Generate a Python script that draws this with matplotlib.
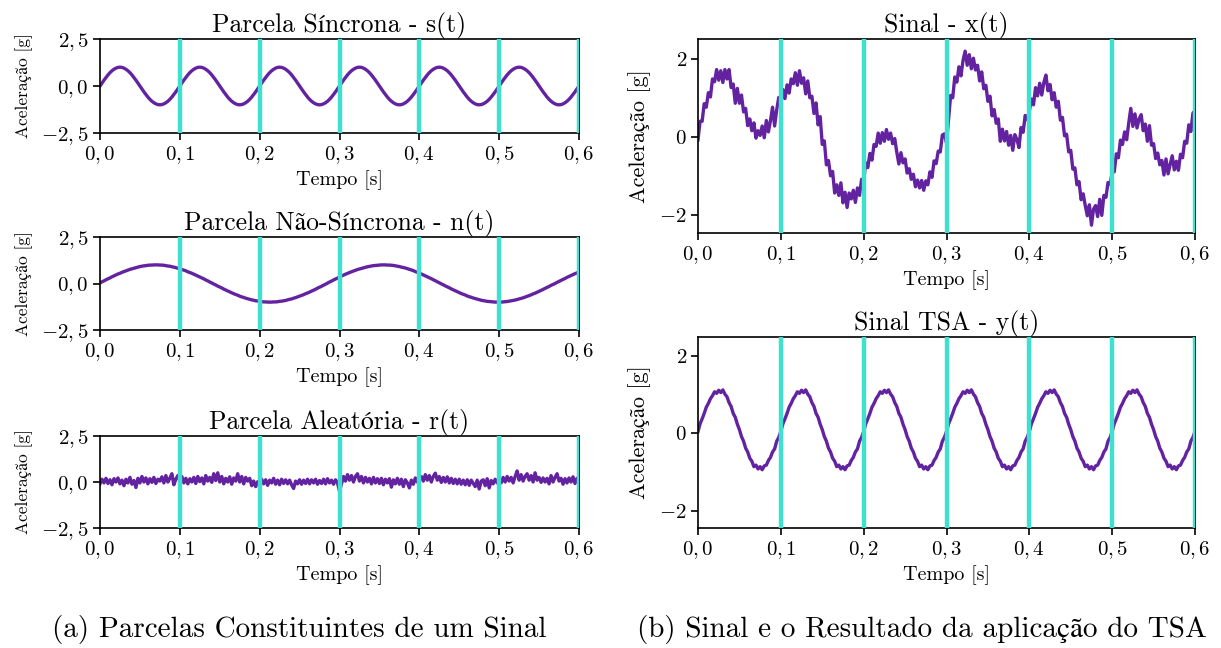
import numpy as np
import matplotlib
matplotlib.use("Agg")
import matplotlib.pyplot as plt
from matplotlib.ticker import FixedLocator, FixedFormatter

plt.rcParams['font.family'] = ['cmr10', 'STIXGeneral', 'DejaVu Serif']
plt.rcParams['mathtext.fontset'] = 'cm'
plt.rcParams['axes.unicode_minus'] = True

# ---------------- data ----------------
dt = 0.0025
n_samples = 241

# synchronous part s(t): one 0.1 s period (40 samples), repeated
s_period = [0.00, 0.16, 0.31, 0.45, 0.59, 0.71, 0.81, 0.89, 0.95, 0.99,
            1.00, 0.99, 0.95, 0.89, 0.81, 0.71, 0.59, 0.45, 0.31, 0.16,
            0.00, -0.16, -0.31, -0.45, -0.59, -0.71, -0.81, -0.89, -0.95, -0.99,
            -1.00, -0.99, -0.95, -0.89, -0.81, -0.71, -0.59, -0.45, -0.31, -0.16]
s_vals = s_period * 6 + [0.00]

# non-synchronous part n(t)
n_vals = [0.03, 0.09, 0.14, 0.20, 0.25, 0.30, 0.36, 0.41, 0.46, 0.51,
          0.55, 0.60, 0.64, 0.68, 0.72, 0.76, 0.79, 0.82, 0.85, 0.88,
          0.91, 0.93, 0.95, 0.96, 0.98, 0.99, 0.99, 1.00, 1.00, 1.00,
          0.99, 0.99, 0.98, 0.96, 0.94, 0.93, 0.90, 0.88, 0.85, 0.82,
          0.79, 0.75, 0.72, 0.68, 0.63, 0.59, 0.55, 0.50, 0.45, 0.40,
          0.35, 0.30, 0.25, 0.19, 0.14, 0.08, 0.03, -0.03, -0.08, -0.14,
          -0.19, -0.24, -0.30, -0.35, -0.40, -0.45, -0.50, -0.55, -0.59, -0.63,
          -0.68, -0.72, -0.75, -0.79, -0.82, -0.85, -0.88, -0.90, -0.93, -0.94,
          -0.96, -0.97, -0.99, -0.99, -1.00, -1.00, -1.00, -0.99, -0.99, -0.98,
          -0.96, -0.95, -0.93, -0.91, -0.88, -0.85, -0.83, -0.79, -0.76, -0.72,
          -0.68, -0.64, -0.60, -0.55, -0.51, -0.46, -0.41, -0.36, -0.31, -0.25,
          -0.20, -0.15, -0.09, -0.04,
          0.02, 0.08, 0.13, 0.19, 0.24, 0.29, 0.35, 0.40, 0.45, 0.50,
          0.54, 0.59, 0.63, 0.67, 0.71, 0.75, 0.78, 0.81, 0.84, 0.87,
          0.90, 0.92, 0.94, 0.96, 0.97, 0.98, 0.99, 1.00, 1.00, 1.00,
          0.99, 0.99, 0.98, 0.97, 0.95, 0.93, 0.91, 0.88, 0.86, 0.83,
          0.80, 0.76, 0.73, 0.69, 0.64, 0.60, 0.56, 0.51, 0.46, 0.41,
          0.36, 0.31, 0.26, 0.20, 0.15, 0.09, 0.04, -0.02, -0.07, -0.13,
          -0.18, -0.23, -0.29, -0.34, -0.39, -0.44, -0.49, -0.54, -0.58, -0.62,
          -0.67, -0.71, -0.74, -0.78, -0.81, -0.84, -0.87, -0.90, -0.92, -0.94,
          -0.96, -0.97, -0.98, -0.99, -1.00, -1.00, -1.00, -1.00, -0.99, -0.98,
          -0.97, -0.95, -0.93, -0.91, -0.89, -0.86, -0.83, -0.80, -0.77, -0.73,
          -0.69, -0.65, -0.61, -0.56, -0.52, -0.47, -0.42, -0.37, -0.32, -0.26,
          -0.21, -0.16, -0.10, -0.05,
          0.00, 0.06, 0.11, 0.17, 0.22, 0.27, 0.33, 0.38, 0.43, 0.48,
          0.53, 0.57, 0.62]

# random part r(t)
r_vals = [-0.10, 0.15, -0.05, 0.20, -0.08, 0.12, -0.15, 0.18, 0.00, 0.22,
          -0.10, 0.10, -0.20, 0.15, -0.05, 0.25, -0.12, 0.08, -0.30, 0.20,
          -0.05, 0.30, 0.00, 0.22, -0.10, 0.18, -0.02, 0.25, -0.08, 0.15,
          0.05, 0.28, -0.05, 0.35, 0.00, 0.20, 0.45, -0.15, 0.15, 0.35,
          0.05, 0.30, -0.05, 0.20, -0.10, 0.18, 0.00, 0.25, -0.08, 0.30,
          0.02, 0.22, -0.10, 0.35, 0.05, 0.25, -0.02, 0.45, 0.08, 0.50,
          0.00, 0.30, -0.10, 0.20, 0.00, 0.28, -0.12, 0.22, 0.05, 0.45,
          0.00, 0.30, -0.10, 0.25, 0.05, 0.20, -0.20, 0.05, -0.25, 0.02,
          -0.15, 0.15, -0.10, 0.12, -0.18, 0.10, -0.05, 0.20, -0.12, 0.10,
          -0.15, 0.15, -0.08, 0.12, -0.10, 0.10, -0.15, -0.35, 0.05, -0.10,
          0.12, -0.12, 0.10, -0.08, 0.15, -0.10, 0.12, -0.05, 0.15, -0.12,
          0.08, -0.08, 0.15, -0.10, 0.18, -0.05, 0.10, -0.12, 0.12, -0.05,
          -0.50, -0.10, 0.30, 0.05, 0.40, 0.10, 0.35, 0.00, 0.30, 0.45,
          0.05, 0.30, -0.05, 0.25, 0.00, 0.20, -0.10, 0.25, -0.05, 0.18,
          -0.08, 0.20, -0.15, 0.15, -0.05, 0.18, -0.28, 0.12, -0.10, 0.20,
          -0.12, 0.15, -0.25, 0.12, -0.05, -0.32, 0.10, -0.12, 0.22, 0.00,
          0.10, 0.30, 0.05, 0.40, 0.10, 0.35, 0.00, 0.30, 0.48, 0.10,
          0.30, -0.02, 0.25, 0.00, 0.28, -0.05, 0.20, -0.08, 0.15, -0.10,
          0.15, -0.12, 0.10, -0.15, 0.12, -0.18, 0.10, -0.08, -0.25, 0.10,
          -0.38, 0.05, 0.12, -0.20, 0.18, -0.32, 0.08, -0.10, 0.15, -0.05,
          0.10, -0.05, 0.25, 0.00, 0.30, 0.05, 0.25, -0.05, 0.30, 0.60,
          0.10, 0.40, 0.05, 0.30, 0.45, 0.10, 0.35, 0.00, 0.50, 0.10,
          0.25, -0.02, 0.22, 0.00, 0.20, -0.10, 0.35, 0.00, 0.25, 0.45,
          0.05, 0.20, -0.12, 0.18, -0.05, 0.22, 0.00, 0.28, -0.08, 0.20,
          0.05]

# TSA result y(t): one 0.1 s period, repeated
y_period = [0.05, 0.25, 0.38, 0.52, 0.68, 0.78, 0.90, 0.98, 1.08, 1.04,
            1.12, 1.06, 1.13, 1.02, 0.95, 0.80, 0.70, 0.52, 0.42, 0.24,
            0.10, -0.08, -0.20, -0.38, -0.48, -0.64, -0.72, -0.86, -0.82, -0.92,
            -0.86, -0.94, -0.84, -0.82, -0.70, -0.62, -0.48, -0.40, -0.20, -0.10]
y_vals = y_period * 6 + [0.05]

period_lines = [0.1, 0.2, 0.3, 0.4, 0.5, 0.6]

x_ticks = [0.0, 0.1, 0.2, 0.3, 0.4, 0.5, 0.6]
x_tick_labels = ['$0,0$', '$0,1$', '$0,2$', '$0,3$', '$0,4$', '$0,5$', '$0,6$']
left_y_ticks = [-2.5, 0.0, 2.5]
left_y_tick_labels = ['$-2,5$', '$0,0$', '$2,5$']
right_y_ticks = [-2, 0, 2]
right_y_tick_labels = ['$-2$', '$0$', '$2$']

left_titles = ['Parcela Síncrona - s(t)', 'Parcela Não-Síncrona - n(t)',
               'Parcela Aleatória - r(t)']
right_titles = ['Sinal - x(t)', 'Sinal TSA - y(t)']
captions = ['(a) Parcelas Constituintes de um Sinal',
            '(b) Sinal e o Resultado da aplicação do TSA']

# ---------------- derived ----------------
t = np.arange(n_samples) * dt
s_arr = np.array(s_vals)
n_arr = np.array(n_vals)
r_arr = np.array(r_vals)
x_arr = s_arr + n_arr + r_arr
y_arr = np.array(y_vals)

PURPLE = '#6322a0'
TURQ = '#40e0d0'

W, H = 1221, 648
fig = plt.figure(figsize=(W / 100, H / 100), dpi=100)


def px_axes(left, top, right, bottom):
    return fig.add_axes([left / W, 1 - bottom / H, (right - left) / W, (bottom - top) / H])


def style(ax, yticks, ylabels, ylim, ylab_size, title):
    ax.set_xlim(0, 0.6)
    ax.set_ylim(*ylim)
    ax.xaxis.set_major_locator(FixedLocator(x_ticks))
    ax.xaxis.set_major_formatter(FixedFormatter(x_tick_labels))
    ax.yaxis.set_major_locator(FixedLocator(yticks))
    ax.yaxis.set_major_formatter(FixedFormatter(ylabels))
    ax.tick_params(labelsize=15, length=5, width=1.2, pad=3)
    for sp in ax.spines.values():
        sp.set_linewidth(1.2)
    ax.set_xlabel('Tempo [s]', fontsize=14.5, labelpad=3)
    ax.set_ylabel('Aceleração [g]', fontsize=ylab_size, labelpad=6)
    ax.set_title(title, fontsize=18.5, pad=5)
    for xv in period_lines:
        ax.axvline(xv, color=TURQ, lw=3.2, zorder=3)


left_boxes = [(100, 39, 579, 133), (100, 237, 579, 330), (100, 436, 579, 528)]
left_series = [s_arr, n_arr, r_arr]
for box, ser, title in zip(left_boxes, left_series, left_titles):
    ax = px_axes(*box)
    ax.plot(t, ser, color=PURPLE, lw=2.4, zorder=2)
    style(ax, left_y_ticks, left_y_tick_labels, (-2.5, 2.5), 12.5, title)

right_boxes = [(698, 39, 1195, 233), (698, 337, 1195, 528)]
right_series = [x_arr, y_arr]
for box, ser, title in zip(right_boxes, right_series, right_titles):
    ax = px_axes(*box)
    ax.plot(t, ser, color=PURPLE, lw=2.4, zorder=2)
    style(ax, right_y_ticks, right_y_tick_labels, (-2.45, 2.5), 16, title)

fig.text(299 / W, 1 - 630 / H, captions[0], ha='center', va='center', fontsize=21)
fig.text(922 / W, 1 - 630 / H, captions[1], ha='center', va='center', fontsize=21)

fig.savefig('out.png', dpi=100)
